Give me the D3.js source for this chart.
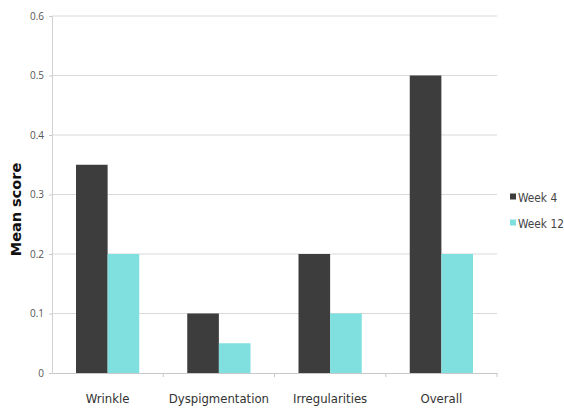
<!DOCTYPE html>
<html>
<head>
<meta charset="utf-8">
<script src="https://cdn.jsdelivr.net/npm/d3@7"></script>
<style>
  html, body { margin: 0; padding: 0; background: #fff; }
  svg { display: block; }
</style>
</head>
<body>
<svg id="chart" width="564" height="409"></svg>
<script>
const categories = ["Wrinkle", "Dyspigmentation", "Irregularities", "Overall"];
const seriesNames = ["Week 4", "Week 12"];
const week4 = [0.35, 0.10, 0.20, 0.50];
const week12 = [0.20, 0.05, 0.10, 0.20];
const yTicks = [0, 0.1, 0.2, 0.3, 0.4, 0.5, 0.6];
const colors = ["#3d3d3d", "#80dfdf"];

const svg = d3.select("#chart");
const plotLeft = 52, plotRight = 497, plotTop = 16, plotBottom = 373;

const x = d3.scaleBand().domain(categories).range([plotLeft, plotRight]).paddingInner(0).paddingOuter(0);
const inner = d3.scaleBand().domain(seriesNames).range([24, x.bandwidth() - 24]);
const y = d3.scaleLinear().domain([0, 0.6]).range([plotBottom, plotTop]);

// horizontal gridlines
svg.append("g").selectAll("line").data(yTicks.slice(1)).join("line")
  .attr("x1", plotLeft).attr("x2", plotRight)
  .attr("y1", d => y(d)).attr("y2", d => y(d))
  .attr("stroke", "#d9d9d9").attr("stroke-width", 1.2);

// y axis
const yAxis = svg.append("g").attr("transform", `translate(${plotLeft},0)`)
  .call(d3.axisLeft(y).tickValues(yTicks).tickFormat(d => d === 0 ? "0" : d3.format(".1f")(d)).tickSize(3).tickPadding(5));
yAxis.select(".domain").attr("stroke", "#d0d0d0");
yAxis.selectAll(".tick line").attr("stroke", "#c8c8c8");
yAxis.selectAll("text").attr("fill", "#555").style("font", "10px 'Open Sans', sans-serif");

// bars
const values = [week4, week12];
const groups = svg.append("g").selectAll("g").data(categories).join("g")
  .attr("transform", d => `translate(${x(d)},0)`);
groups.selectAll("rect").data((c, i) => seriesNames.map((s, k) => ({ s, v: values[k][i], k })))
  .join("rect")
  .attr("x", d => inner(d.s))
  .attr("width", inner.bandwidth())
  .attr("y", d => y(d.v))
  .attr("height", d => y(0) - y(d.v))
  .attr("fill", d => colors[d.k]);

// x axis
const xAxis = svg.append("g").attr("transform", `translate(0,${plotBottom})`)
  .call(d3.axisBottom(x).tickSize(0).tickPadding(21));
xAxis.select(".domain").attr("stroke", "#c8c8c8");
xAxis.selectAll("text").attr("fill", "#333").style("font", "13px 'DejaVu Sans Condensed', sans-serif");
// category separators
svg.append("g").selectAll("line").data(categories).join("line")
  .attr("x1", d => x(d) + x.bandwidth()).attr("x2", d => x(d) + x.bandwidth())
  .attr("y1", plotBottom).attr("y2", plotBottom + 4)
  .attr("stroke", "#c8c8c8");

// y title
svg.append("text")
  .attr("transform", `translate(21,${(plotTop + plotBottom) / 2 + 15}) rotate(-90)`)
  .attr("text-anchor", "middle")
  .attr("fill", "#111")
  .style("font", "bold 14.5px 'DejaVu Sans', sans-serif")
  .text("Mean score");

// legend
const legend = svg.append("g").selectAll("g").data(seriesNames).join("g")
  .attr("transform", (d, i) => `translate(510,${197 + i * 26})`);
legend.append("rect").attr("x", 0).attr("y", -3.5).attr("width", 6).attr("height", 6)
  .attr("fill", (d, i) => colors[i]);
legend.append("text").attr("x", 8).attr("y", 4.5)
  .attr("fill", "#444")
  .style("font", "11.8px 'DejaVu Sans Condensed', sans-serif")
  .text(d => d);
</script>
</body>
</html>
